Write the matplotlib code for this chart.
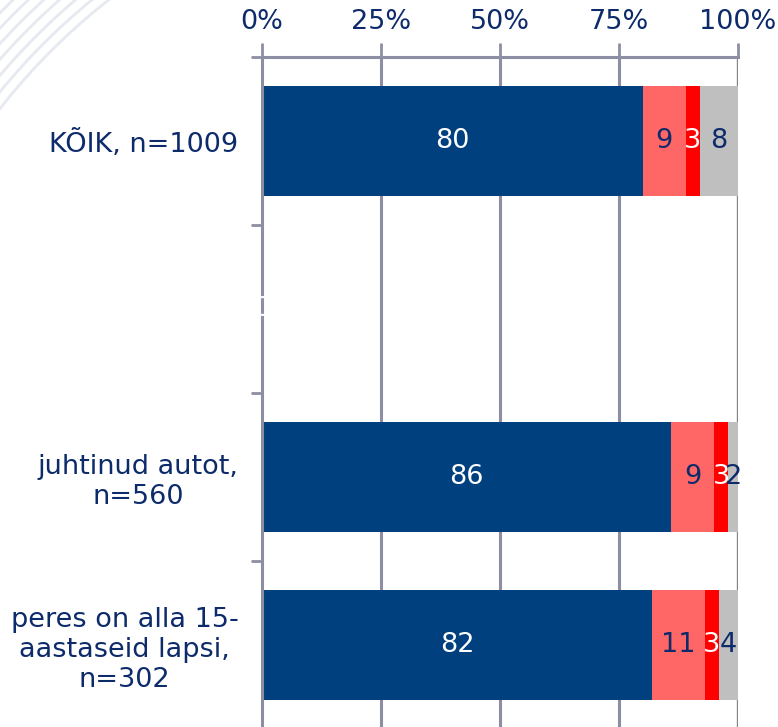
import numpy as np
import matplotlib.pyplot as plt
from matplotlib.patches import Arc

# survey groups (second slot is an empty spacer row)
groups = ["KÕIK, n=1009", "", "juhtinud autot,\nn=560", "peres on alla 15-\naastaseid lapsi,\nn=302"]
s1 = [80, 0, 86, 82]
s2 = [9, 0, 9, 11]
s3 = [3, 0, 3, 3]
s4 = [8, 0, 2, 4]
tick_vals = [0, 25, 50, 75, 100]
tick_labels = ["0%", "25%", "50%", "75%", "100%"]

colors = ["#00407F", "#FF6666", "#FF0000", "#BFBFBF"]
text_cols = ["white", "#0D2B6B", "white", "#0D2B6B"]
navy = "#0D2B6B"
grid_col = "#8C8FA3"
fs = 19.5

fig = plt.figure(figsize=(7.78, 7.27), dpi=100)

# faint decorative stripes in the corner
deco = fig.add_axes([0, 0, 1, 1], zorder=-1)
deco.set_xlim(0, 778)
deco.set_ylim(727, 0)
deco.axis("off")
for r in np.arange(635, 705, 10.5):
    deco.add_patch(Arc((500, 500), 2 * r, 2 * r, theta1=180, theta2=270,
                       color="#E6E9F0", lw=2.0))

ax = fig.add_axes([262 / 778, -2 / 727, 476 / 778, 672 / 727])
y = np.arange(len(groups))
left = np.zeros(len(groups))
for vals, c, tc in zip([s1, s2, s3, s4], colors, text_cols):
    vals = np.array(vals, dtype=float)
    ax.barh(y, vals, left=left, height=0.66, color=c, zorder=2)
    for yi, (l, v) in enumerate(zip(left, vals)):
        if v > 0:
            ax.text(l + v / 2, yi, f"{v:.0f}", ha="center", va="center",
                    color=tc, fontsize=fs, zorder=4)
    left += vals

# the spacer row carries a zero value
ax.text(0, 1, "0", ha="center", va="center", color="white", fontsize=fs, zorder=5)

ax.set_xlim(0, 100)
ax.set_ylim(3.5, -0.5)
ax.xaxis.tick_top()
ax.set_xticks(tick_vals)
ax.set_xticklabels(tick_labels, fontsize=fs, color=navy)
ax.tick_params(axis="x", length=10, width=2, color=grid_col, pad=6)
for xv in tick_vals[1:-1]:
    ax.axvline(xv, color=grid_col, lw=2.2, zorder=1)
ax.axvline(100, color="#858585", lw=2.4, zorder=1)

ax.set_yticks(y)
ax.set_yticklabels(groups, fontsize=fs, color=navy, multialignment="center")
ax.tick_params(axis="y", length=0, pad=17)
ax.set_yticks(np.arange(-0.5, 3.6, 1), minor=True)
ax.tick_params(axis="y", which="minor", length=8, width=2, color=grid_col)

for side in ["right", "bottom"]:
    ax.spines[side].set_visible(False)
for side in ["left", "top"]:
    ax.spines[side].set_color(grid_col)
    ax.spines[side].set_linewidth(2.2)
ax.patch.set_alpha(0)

fig.savefig("out.png", dpi=100)
